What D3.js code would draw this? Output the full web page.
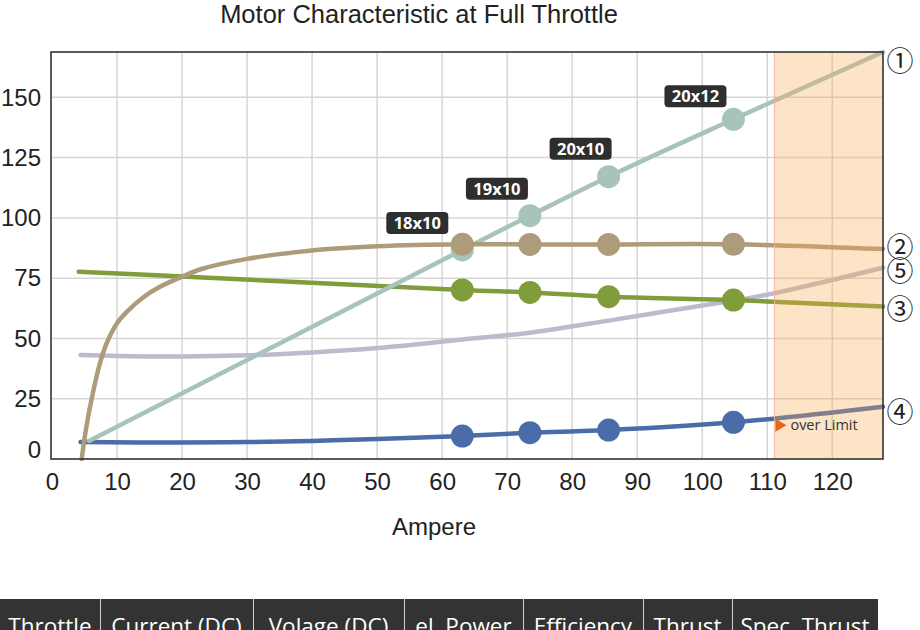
<!DOCTYPE html>
<html>
<head>
<meta charset="utf-8">
<script src="https://cdn.jsdelivr.net/npm/d3@7"></script>
<style>
  html, body { margin: 0; padding: 0; background: #fff; }
  svg { display: block; }
</style>
</head>
<body>
<svg id="chart" width="920" height="630"></svg>
<script>
// ---------- DATA ----------
const title = "Motor Characteristic at Full Throttle";
const xAxisTitle = "Ampere";
const xTicks = [0, 10, 20, 30, 40, 50, 60, 70, 80, 90, 100, 110, 120];
const yTicks = [0, 25, 50, 75, 100, 125, 150];
const xDomain = [0, 127.8];
const yDomain = [0, 168.8];
const overLimitFrom = 111.1;
const overLimitText = "over Limit";
const overLimitAt = 14;

// series 1 (teal)
const s1x = [5.7, 63.1, 73.5, 85.6, 104.8, 127.8];
const s1y = [7.5, 86.7, 100.9, 117.1, 140.9, 168.8];
// series 2 (brown)
const s2x = [4.57, 5.2, 6.1, 7.4, 8.4, 10, 11.5, 14, 16.6, 20, 23, 30, 40, 50, 63.1, 73.5, 85.6, 104.8, 127.8];
const s2y = [0, 12, 25, 40, 48, 56.3, 61, 67, 71.4, 75.6, 78.8, 83, 86.5, 88.2, 89.05, 89.0, 89.0, 89.05, 87.1];
// series 3 (green)
const s3x = [4.1, 20, 63.1, 73.5, 85.6, 104.8, 127.8];
const s3y = [77.7, 75.7, 70.1, 69.1, 67.3, 65.9, 63.2];
// series 4 (blue)
const s4x = [4.4, 20, 30, 40, 50, 63.1, 73.5, 85.6, 104.8, 127.8];
const s4y = [7.0, 6.8, 7.0, 7.5, 8.3, 9.5, 10.9, 12.0, 15.2, 21.7];
// series 5 (lavender)
const s5x = [4.4, 10, 20, 30, 40, 50, 56.6, 63.1, 73.5, 85.6, 95, 104.8, 111, 127.8];
const s5y = [43.1, 42.7, 42.5, 43, 44.2, 46, 47.7, 49.6, 52.4, 57.4, 61.5, 65.7, 68.7, 79.3];

// markers (propellers)
const markerX = [63.1, 73.5, 85.6, 104.8];
const propellers = ["18x10", "19x10", "20x10", "20x12"];

const seriesNames = ["\u2460", "\u2461", "\u2462", "\u2463", "\u2464"];
const tableHeaders = ["Throttle", "Current (DC)", "Volage (DC)", "el. Power", "Efficiency", "Thrust", "Spec. Thrust"];

// ---------- LAYOUT ----------
const L = 52, R = 883, T = 52, B = 459;
const colors = ["#a7c3bc", "#ad9b7a", "#819c3a", "#4a6ca8", "#bdbacb"];
const labelNudge = [[-45, -27], [-33, -27], [-28, -28], [-38, -23]];
const tableCols = [0, 100, 253, 404, 523, 643, 732, 878];

const svg = d3.select("#chart");
const x = d3.scaleLinear().domain(xDomain).range([L, R]);
const y = d3.scaleLinear().domain(yDomain).range([B, T]);

const series = [
  {xs: s1x, ys: s1y, c: colors[0], name: seriesNames[0]},
  {xs: s2x, ys: s2y, c: colors[1], name: seriesNames[1]},
  {xs: s3x, ys: s3y, c: colors[2], name: seriesNames[2]},
  {xs: s4x, ys: s4y, c: colors[3], name: seriesNames[3]},
  {xs: s5x, ys: s5y, c: colors[4], name: seriesNames[4]}
].map(s => ({...s, pts: s.xs.map((v, i) => [v, s.ys[i]])}));

// title
svg.append("text").attr("x", 419).attr("y", 23.2).attr("text-anchor", "middle")
  .attr("font-family", "Liberation Sans, Arial, sans-serif").attr("font-size", 25.5)
  .attr("fill", "#222").text(title);

// grid
const grid = svg.append("g");
grid.selectAll(".gx").data(xTicks.filter(d => d > 0)).join("line")
  .attr("x1", d => x(d)).attr("x2", d => x(d)).attr("y1", T).attr("y2", B)
  .attr("stroke", "#d6d6d6").attr("stroke-width", 1.5);
grid.selectAll(".gy").data(yTicks.filter(d => d > 0)).join("line")
  .attr("x1", L).attr("x2", R).attr("y1", d => y(d)).attr("y2", d => y(d))
  .attr("stroke", "#d6d6d6").attr("stroke-width", 1.5);

// axes labels using d3 axes
const xAxis = d3.axisBottom(x).tickValues(xTicks).tickSize(0).tickPadding(14);
const gx = svg.append("g").attr("transform", `translate(0,${B})`).call(xAxis);
gx.select(".domain").remove();
gx.selectAll("text").attr("font-family", "Liberation Sans, Arial, sans-serif")
  .attr("font-size", 24).attr("fill", "#222");

const yAxis = d3.axisLeft(y).tickValues(yTicks).tickSize(0).tickPadding(10);
const gy = svg.append("g").attr("transform", `translate(${L - 1},0)`).call(yAxis);
gy.select(".domain").remove();
gy.selectAll("text").attr("font-family", "Liberation Sans, Arial, sans-serif")
  .attr("font-size", 24).attr("fill", "#222")
  .attr("dy", d => d === 0 ? "-0.08em" : "0.32em");

svg.append("text").attr("x", 434).attr("y", 535).attr("text-anchor", "middle")
  .attr("font-family", "Liberation Sans, Arial, sans-serif").attr("font-size", 24)
  .attr("fill", "#222").text(xAxisTitle);

// lines
const line = d3.line().x(d => x(d[0])).y(d => y(d[1])).curve(d3.curveCatmullRom.alpha(0.5));
const order = [4, 3, 2, 0, 1];
const plot = svg.append("g");
order.forEach(i => {
  const s = series[i];
  plot.append("path").attr("d", line(s.pts)).attr("fill", "none")
    .attr("stroke", s.c).attr("stroke-width", 4.5).attr("stroke-linecap", "round");
  if (i < 4) {
    markerX.forEach(mx => {
      const idx = s.xs.indexOf(mx);
      plot.append("circle").attr("cx", x(mx)).attr("cy", y(s.ys[idx]))
        .attr("r", 11.5).attr("fill", s.c);
    });
  }
});

// over-limit overlay
svg.append("rect").attr("x", x(overLimitFrom)).attr("y", T)
  .attr("width", x(xDomain[1]) - x(overLimitFrom)).attr("height", B - T)
  .attr("fill", "rgb(250,170,80)").attr("fill-opacity", 0.32);
svg.append("line").attr("x1", x(overLimitFrom)).attr("x2", x(overLimitFrom))
  .attr("y1", T).attr("y2", B).attr("stroke", "#f2b4a0").attr("stroke-width", 1);

const ty = y(overLimitAt);
const tx = x(overLimitFrom);
svg.append("path").attr("d", `M${tx + 1},${ty - 6.5} L${tx + 12},${ty} L${tx + 1},${ty + 6.5} Z`)
  .attr("fill", "#e8661c");
svg.append("text").attr("x", tx + 16).attr("y", ty + 5)
  .attr("font-family", "Open Sans, sans-serif").attr("font-size", 14.5)
  .attr("fill", "#333").text(overLimitText);

// frame
svg.append("rect").attr("x", L - 1).attr("y", T).attr("width", R - L + 1).attr("height", B - T)
  .attr("fill", "none").attr("stroke", "#333").attr("stroke-width", 1.6);

// propeller labels on series 1 markers
const s1 = series[0];
markerX.forEach((mx, k) => {
  const idx = s1.xs.indexOf(mx);
  const cx = x(mx) + labelNudge[k][0];
  const cy = y(s1.ys[idx]) + labelNudge[k][1];
  const g = svg.append("g");
  g.append("rect").attr("x", cx - 31).attr("y", cy - 11).attr("width", 62).attr("height", 22)
    .attr("rx", 4).attr("fill", "#2e2e2e");
  g.append("text").attr("x", cx).attr("y", cy + 6).attr("text-anchor", "middle")
    .attr("font-family", "Open Sans, sans-serif").attr("font-weight", "bold")
    .attr("font-size", 16.5).attr("fill", "#fff").text(propellers[k]);
});

// series end labels (circled numbers)
const endDy = [0, -2, 3, 6, 3];
series.forEach((s, i) => {
  const yy = Math.max(y(s.ys[s.ys.length - 1]) + endDy[i], T + 9.5);
  svg.append("text").attr("x", 900).attr("y", yy).attr("dy", "0.36em")
    .attr("text-anchor", "middle")
    .attr("font-family", "Noto Sans CJK JP, DejaVu Sans, sans-serif").attr("font-size", 27)
    .attr("fill", "#222").text(s.name);
});

// table header
const tg = svg.append("g");
tg.append("rect").attr("x", 0).attr("y", 599).attr("width", tableCols[tableCols.length - 1]).attr("height", 40)
  .attr("fill", "#333");
tableHeaders.forEach((h, i) => {
  if (i > 0) tg.append("line").attr("x1", tableCols[i] + 0.5).attr("x2", tableCols[i] + 0.5)
    .attr("y1", 599).attr("y2", 640).attr("stroke", "#cfcfcf").attr("stroke-width", 1);
  tg.append("text").attr("x", (tableCols[i] + tableCols[i + 1]) / 2).attr("y", 633.5)
    .attr("text-anchor", "middle").attr("font-family", "Open Sans, sans-serif")
    .attr("font-size", 22.5).attr("fill", "#fff").text(h);
});
</script>
</body>
</html>
